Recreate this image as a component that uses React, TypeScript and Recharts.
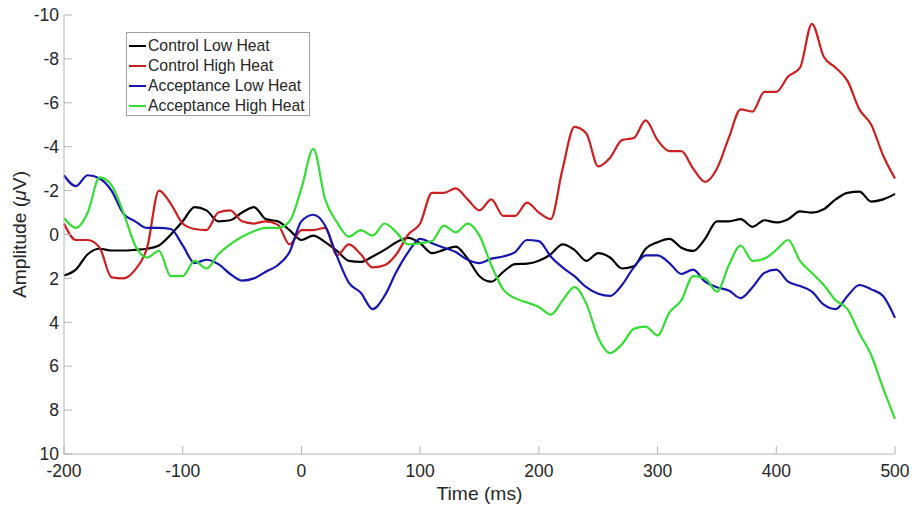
import { Line, LineChart, XAxis, YAxis } from "recharts";

const FONT = '"Liberation Sans", Arial, sans-serif';
const TEXT = "#262626";
const AXIS = "#b4b4b4";

// time points, ms
const TIME = [
  -200, -190, -180, -170, -160, -150, -140, -130, -120, -110,
  -100, -90, -80, -70, -60, -50, -40, -30, -20, -10,
  0, 10, 20, 30, 40, 50, 60, 70, 80, 90,
  100, 110, 120, 130, 140, 150, 160, 170, 180, 190,
  200, 210, 220, 230, 240, 250, 260, 270, 280, 290,
  300, 310, 320, 330, 340, 350, 360, 370, 380, 390,
  400, 410, 420, 430, 440, 450, 460, 470, 480, 490, 500,
];

// amplitudes in µV
const CONTROL_LOW = [
  1.87, 1.6, 0.9, 0.65, 0.73, 0.73, 0.7, 0.65, 0.5, 0.0,
  -0.6, -1.25, -1.1, -0.6, -0.65, -1.0, -1.25, -0.7, -0.6, -0.2,
  0.25, 0.05, 0.35, 0.75, 1.2, 1.25, 1.0, 0.7, 0.35, 0.15,
  0.4, 0.85, 0.7, 0.55, 1.1, 1.9, 2.15, 1.7, 1.35, 1.33,
  1.2, 0.9, 0.45, 0.7, 1.2, 0.85, 1.05, 1.55, 1.45, 0.65,
  0.35, 0.2, 0.6, 0.75, 0.2, -0.6, -0.6, -0.7, -0.35, -0.65,
  -0.55, -0.7, -1.05, -1.0, -1.15, -1.6, -1.9, -1.95, -1.5, -1.6, -1.85,
];
const CONTROL_HIGH = [
  -0.5, 0.25, 0.25, 0.6, 1.95, 2.0, 1.6, 0.6, -2.0, -1.4,
  -0.5, -0.25, -0.2, -1.0, -1.1, -0.6, -0.5, -0.6, -0.45, 0.45,
  -0.2, -0.2, -0.3, 0.95, 0.45, 0.9, 1.5, 1.4, 0.9, 0.0,
  -0.5, -1.9, -1.9, -2.1, -1.6, -1.1, -1.6, -0.85, -0.85, -1.45,
  -1.0, -0.7, -3.0, -4.9, -4.6, -3.1, -3.5, -4.3, -4.4, -5.2,
  -4.3, -3.8, -3.8, -3.0, -2.4, -3.0, -4.4, -5.7, -5.6, -6.5,
  -6.5, -7.2, -7.6, -9.6, -8.1, -7.6, -7.0, -5.7, -5.0, -3.6, -2.55,
];
const ACCEPT_LOW = [
  -2.7, -2.2, -2.7, -2.55, -2.0, -0.95, -0.6, -0.3, -0.3, -0.25,
  0.5, 1.3, 1.15, 1.35, 1.8, 2.1, 2.0, 1.7, 1.4, 0.8,
  -0.6, -0.9, -0.4, 1.0, 2.2, 2.65, 3.4, 2.8, 1.7, 0.8,
  0.2, 0.4, 0.6, 0.8, 1.15, 1.3, 1.1, 1.0, 0.8, 0.25,
  0.3, 1.0, 1.5, 1.9, 2.4, 2.7, 2.8, 2.3, 1.5, 0.95,
  0.95, 1.3, 1.8, 1.6, 2.15, 2.4, 2.55, 2.9, 2.4, 1.75,
  1.6, 2.15, 2.35, 2.6, 3.2, 3.4, 2.8, 2.3, 2.5, 2.8, 3.8,
];
const ACCEPT_HIGH = [
  -0.75, -0.3, -1.0, -2.6, -2.25, -1.0, 0.5, 1.05, 0.75, 1.9,
  1.9, 1.2, 1.55, 0.9, 0.45, 0.1, -0.15, -0.3, -0.3, -0.6,
  -2.1, -3.9, -1.6, -0.55, 0.1, -0.2, 0.05, -0.5, -0.1, 0.45,
  0.4, 0.3, -0.4, -0.1, -0.5, 0.05, 1.4, 2.5, 2.9, 3.1,
  3.3, 3.65, 3.0, 2.4, 3.15, 4.7, 5.4, 5.0, 4.3, 4.2,
  4.6, 3.55, 3.0, 1.9, 2.0, 2.6, 1.4, 0.5, 1.2, 1.1,
  0.7, 0.25, 1.2, 1.75, 2.3, 3.0, 3.4, 4.5, 5.5, 7.0, 8.4,
];

const X_TICKS = [-200, -100, 0, 100, 200, 300, 400, 500];
const Y_TICKS = [-10, -8, -6, -4, -2, 0, 2, 4, 6, 8, 10];

const SERIES = [
  { key: "cl", name: "Control Low Heat", color: "#000000", values: CONTROL_LOW },
  { key: "ch", name: "Control High Heat", color: "#cc1f1f", values: CONTROL_HIGH },
  { key: "al", name: "Acceptance Low Heat", color: "#1515b0", values: ACCEPT_LOW },
  { key: "ah", name: "Acceptance High Heat", color: "#33dd33", values: ACCEPT_HIGH },
];

const data = TIME.map((t, i) => {
  const row: Record<string, number> = { t };
  SERIES.forEach((s) => (row[s.key] = s.values[i]));
  return row;
});

const XTick = ({ x, y, payload }: any) => (
  <g>
    <line x1={x} x2={x} y1={y} y2={y - 8} stroke={AXIS} strokeWidth={1} />
    <text x={x} y={y + 23} textAnchor="middle" fill={TEXT} fontSize={17.5} fontFamily={FONT}>
      {payload.value}
    </text>
  </g>
);

const YTick = ({ x, y, payload }: any) => (
  <g>
    <line x1={x + 5} x2={x + 13} y1={y} y2={y} stroke={AXIS} strokeWidth={1} />
    <text x={x} y={y} dy="0.358em" textAnchor="end" fill={TEXT} fontSize={17.5} fontFamily={FONT}>
      {payload.value}
    </text>
  </g>
);

const YLabel = ({ viewBox }: any) => {
  const cx = viewBox.x + 26;
  const cy = viewBox.y + viewBox.height / 2;
  return (
    <text
      x={cx}
      y={cy}
      transform={`rotate(-90, ${cx}, ${cy})`}
      textAnchor="middle"
      fill={TEXT}
      fontSize={19.25}
      fontFamily={FONT}
    >
      Amplitude (<tspan fontStyle="italic">μ</tspan>V)
    </text>
  );
};

export default function App() {
  return (
    <div style={{ position: "absolute", left: 0, top: 0, width: 913, height: 508, background: "#fff" }}>
      <LineChart width={913} height={508} data={data} margin={{ top: 15, right: 18, left: 0, bottom: 0 }}>
        <XAxis
          dataKey="t"
          type="number"
          domain={[-200, 500]}
          ticks={X_TICKS}
          height={54}
          stroke={AXIS}
          tickSize={0}
          tickMargin={0}
          tickLine={false}
          tick={<XTick />}
          label={{ value: "Time (ms)", position: "insideBottom", offset: 8, fill: TEXT, fontSize: 19.25, fontFamily: FONT }}
        />
        <YAxis
          type="number"
          domain={[-10, 10]}
          reversed
          ticks={Y_TICKS}
          width={64}
          stroke={AXIS}
          tickSize={0}
          tickMargin={5}
          tickLine={false}
          tick={<YTick />}
          label={<YLabel />}
        />
        {SERIES.map((s) => (
          <Line
            key={s.key}
            dataKey={s.key}
            name={s.name}
            type="monotone"
            stroke={s.color}
            strokeWidth={2.2}
            dot={false}
            isAnimationActive={false}
          />
        ))}
      </LineChart>
      <div
        style={{
          position: "absolute",
          left: 126,
          top: 32,
          width: 182,
          height: 82,
          border: "1px solid #a0a0a0",
          background: "#fff",
          fontFamily: FONT,
          fontSize: 15.75,
          color: TEXT,
          boxSizing: "content-box",
        }}
      >
        {SERIES.map((s, i) => (
          <div key={s.key} style={{ position: "absolute", left: 0, top: 3 + i * 20, height: 20, display: "flex", alignItems: "center", whiteSpace: "nowrap" }}>
            <span style={{ display: "inline-block", width: 17, height: 2, background: s.color, marginLeft: 2, marginRight: 2 }} />
            <span>{s.name}</span>
          </div>
        ))}
      </div>
    </div>
  );
}
